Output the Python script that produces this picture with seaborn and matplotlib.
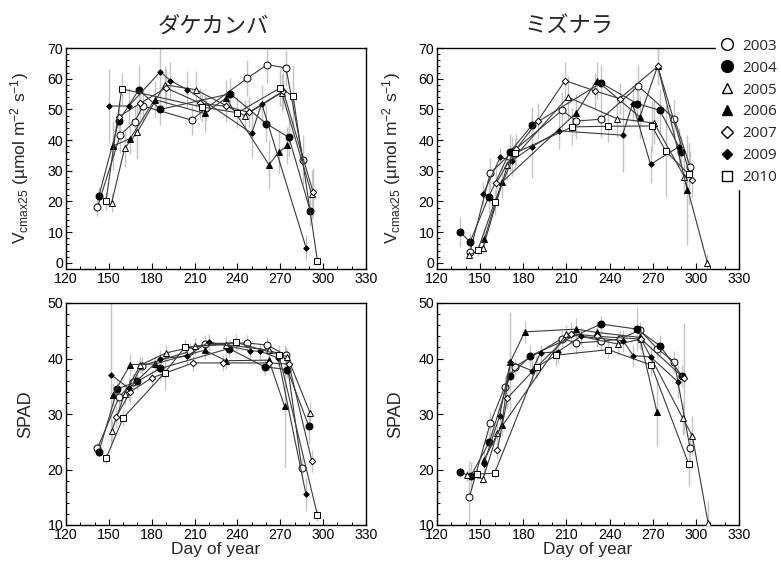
import matplotlib
matplotlib.use("Agg")
import matplotlib.pyplot as plt
from matplotlib.lines import Line2D
from matplotlib.ticker import MultipleLocator
import numpy as np
import pandas as pd
import seaborn as sns

# ---------------------------------------------------------------- data
YEARS = [2003, 2004, 2005, 2006, 2007, 2009, 2010]
SPECIES = ["ダケカンバ", "ミズナラ"]

# ダケカンバ : Vcmax25 (day of year, value, s.d.)
dk_vc_day = {
    2003: [142, 158, 168, 174, 208, 218, 247, 261, 274, 286],
    2004: [143, 157, 171, 186, 235, 260, 276, 291],
    2005: [152, 161, 170, 189, 211, 245, 271, 292],
    2006: [153, 165, 182, 217, 232, 262, 269, 275],
    2007: [157, 172, 190, 214, 232, 248, 272, 293],
    2009: [150, 164, 186, 193, 205, 250, 257, 288],
    2010: [148, 159, 215, 240, 270, 279, 296],
}
dk_vc_val = {
    2003: [18.2, 41.7, 46.0, 51.1, 46.5, 50.3, 60.2, 64.6, 63.5, 33.6],
    2004: [21.7, 46.3, 56.4, 50.0, 55.1, 45.4, 40.9, 16.9],
    2005: [19.6, 37.3, 42.7, 58.0, 56.4, 48.0, 55.5, 22.3],
    2006: [38.1, 40.5, 53.2, 48.7, 53.7, 32.0, 36.0, 38.3],
    2007: [47.6, 52.0, 57.0, 52.0, 51.0, 49.0, 56.0, 23.0],
    2009: [51.1, 51.1, 62.3, 59.4, 56.4, 42.2, 51.9, 5.0],
    2010: [20.1, 56.7, 50.8, 48.9, 57.0, 54.3, 0.7],
}
dk_vc_sd = {
    2003: [3, 6, 5, 5, 5, 4, 6, 6, 6, 8],
    2004: [3, 6, 8, 5, 5, 6, 6, 5],
    2005: [3, 6, 9, 6, 6, 5, 6, 8],
    2006: [8, 5, 6, 6, 6, 8, 7, 6],
    2007: [5, 5, 6, 5, 5, 5, 6, 8],
    2009: [12, 6, 8, 6, 6, 8, 6, 4],
    2010: [3, 5, 5, 5, 6, 10, 1],
}

# ミズナラ : Vcmax25
mz_vc_day = {
    2003: [143, 157, 172, 207, 217, 234, 260, 285, 296],
    2004: [136, 143, 156, 170.5, 186, 234, 259, 275, 290],
    2005: [142, 152, 169, 211, 245, 271, 292, 308],
    2006: [153, 165, 217, 231, 261, 273.5, 294],
    2007: [161, 175, 190, 209, 230, 247, 273.5, 297],
    2009: [152, 164, 172, 186, 205, 249, 256, 268.5, 288],
    2010: [148.5, 160, 174, 214, 239, 269.5, 279, 295],
}
mz_vc_val = {
    2003: [3.6, 29.2, 36.0, 49.7, 46.2, 46.8, 57.6, 47.0, 31.3],
    2004: [10.1, 6.8, 21.6, 36.0, 44.8, 58.6, 51.9, 49.7, 36.2],
    2005: [2.4, 4.9, 31.9, 54.0, 47.0, 45.6, 28.1, 0.0],
    2006: [7.9, 26.2, 48.9, 59.4, 47.5, 64.2, 23.8],
    2007: [25.9, 37.0, 46.2, 59.4, 56.0, 53.5, 64.0, 27.0],
    2009: [22.4, 34.4, 33.3, 37.8, 43.0, 41.6, 51.9, 32.1, 37.8],
    2010: [4.3, 19.7, 35.7, 44.3, 44.5, 44.6, 36.4, 28.9],
}
mz_vc_sd = {
    2003: [2, 5, 5, 6, 6, 6, 7, 6, 5],
    2004: [5, 3, 5, 6, 6, 6, 6, 7, 5],
    2005: [1, 2, 5, 7, 6, 7, 6, 3],
    2006: [3, 5, 6, 6, 7, 6, 18],
    2007: [5, 5, 6, 6, 6, 5, 6, 6],
    2009: [4, 3, 5, 10, 6, 12, 6, 6, 6],
    2010: [2, 4, 5, 6, 5, 8, 15, 10],
}

# ダケカンバ : SPAD
dk_sp_day = {
    2003: [142, 157, 167, 173, 207, 217, 247, 261, 274, 285],
    2004: [143, 156, 170, 186, 234, 259, 275, 290],
    2005: [152, 161, 172, 190, 210, 232, 262, 275, 291],
    2006: [153, 165, 182, 217, 232, 262, 273],
    2007: [155, 165, 180, 209, 230, 262, 276, 292],
    2009: [151.5, 164, 186, 204.5, 220, 249, 256, 268.5, 288],
    2010: [148, 160, 189, 203, 239, 269, 296],
}
dk_sp_val = {
    2003: [23.8, 33.0, 35.8, 38.7, 41.3, 42.7, 42.8, 42.4, 40.6, 20.3],
    2004: [23.2, 34.5, 35.9, 38.2, 41.8, 38.5, 38.0, 27.8],
    2005: [26.9, 33.6, 38.8, 41.0, 42.2, 42.5, 41.5, 40.3, 30.1],
    2006: [33.5, 38.9, 39.0, 41.5, 39.6, 39.7, 31.4],
    2007: [29.4, 34.0, 36.5, 39.2, 39.2, 39.2, 39.0, 21.6],
    2009: [37.1, 34.6, 40.0, 40.4, 43.0, 41.4, 41.3, 40.1, 15.5],
    2010: [22.0, 29.3, 37.4, 42.0, 42.9, 40.7, 11.8],
}
dk_sp_sd = {
    2003: [1, 2, 1.5, 1.5, 1.5, 1.5, 1.5, 1.5, 1.5, 2],
    2004: [1, 1.5, 1.5, 2, 1.5, 1.5, 1.5, 3],
    2005: [2, 2, 1.5, 1.5, 1.5, 1.5, 1.5, 1.5, 2],
    2006: [2, 2, 1.5, 1.5, 1.5, 1.5, 11],
    2007: [2, 2, 1.5, 1.5, 1.5, 1.5, 1.5, 2],
    2009: [13, 2, 1.5, 1.5, 1.5, 1.5, 1.5, 1.5, 3],
    2010: [1, 1.5, 3, 1.5, 1.5, 1.5, 1],
}

# ミズナラ : SPAD
mz_sp_day = {
    2003: [142.5, 157, 167, 174, 207, 217, 234, 247, 261, 273, 285, 296],
    2004: [136, 143.5, 156.5, 170.5, 185, 234, 259, 275, 290.5],
    2005: [141, 152, 162, 210, 246, 262, 291, 297.5, 308.5],
    2006: [153, 165, 171, 181, 217, 231, 261, 273],
    2007: [162, 169, 189, 213, 231, 262, 292],
    2009: [152.5, 163.5, 171, 186, 192, 204, 220, 249.5, 256.5, 268.5, 287.5],
    2010: [148, 160, 189.5, 203, 239, 269, 295],
}
mz_sp_val = {
    2003: [15.0, 28.3, 34.8, 38.5, 43.6, 42.8, 43.1, 43.5, 45.1, 41.8, 39.4, 23.8],
    2004: [19.5, 18.8, 25.0, 36.8, 40.5, 46.2, 45.3, 42.3, 36.8],
    2005: [19.0, 18.3, 26.6, 44.5, 42.6, 43.5, 29.2, 26.1, 10.4],
    2006: [21.8, 28.0, 39.4, 44.8, 45.3, 44.7, 43.8, 30.3],
    2007: [23.5, 32.9, 38.4, 44.5, 44.0, 43.5, 36.4],
    2009: [21.0, 29.6, 39.4, 37.8, 41.0, 41.2, 44.0, 43.2, 40.5, 40.3, 35.8],
    2010: [19.2, 19.3, 38.5, 40.6, 41.6, 38.8, 21.0],
}
mz_sp_sd = {
    2003: [6.5, 2, 2, 1.5, 1.5, 2, 1.5, 1.5, 1.5, 1.5, 2, 3],
    2004: [1, 2.5, 1.5, 2, 2, 1.5, 4, 2, 2],
    2005: [1, 1, 2, 1.5, 2, 1.5, 3, 3.5, 4],
    2006: [1.5, 2, 9, 2, 2, 2, 2, 6],
    2007: [1.5, 2, 2, 2, 2, 2, 10],
    2009: [1.5, 1.5, 2, 2, 1.5, 2, 1.5, 2, 2, 2, 3],
    2010: [1, 1, 2, 2, 1.5, 2, 4],
}

# ---------------------------------------------------------------- style
sns.set_style("ticks")
plt.rcParams["font.family"] = ["Liberation Sans", "DejaVu Sans"]
plt.rcParams["mathtext.fontset"] = "custom"
plt.rcParams["mathtext.rm"] = "Liberation Sans"
plt.rcParams["mathtext.it"] = "Liberation Sans:italic"

MARKERS = {
    2003: dict(marker="o", mfc="white", ms=5.0),
    2004: dict(marker="o", mfc="black", ms=5.0),
    2005: dict(marker="^", mfc="white", ms=4.6),
    2006: dict(marker="^", mfc="black", ms=4.2),
    2007: dict(marker="D", mfc="white", ms=3.3),
    2009: dict(marker="D", mfc="black", ms=2.8),
    2010: dict(marker="s", mfc="white", ms=4.6),
}


def long_table(days, vals, sds):
    rows = []
    for yr in YEARS:
        for d, v, s in zip(days[yr], vals[yr], sds[yr]):
            rows.append(dict(year=yr, day=d, value=v, sd=s))
    return pd.DataFrame(rows)


def draw_panel(ax, df):
    ax.vlines(df["day"], df["value"] - df["sd"], df["value"] + df["sd"],
              color="#c4c4c4", lw=1.0, zorder=1)
    for yr in YEARS:
        sub = df[df["year"] == yr]
        st = MARKERS[yr]
        sns.lineplot(data=sub, x="day", y="value", ax=ax, sort=False,
                     estimator=None, color="#3a3a3a", lw=0.8,
                     marker=st["marker"], markersize=st["ms"],
                     markerfacecolor=st["mfc"], markeredgecolor="black",
                     markeredgewidth=0.7, zorder=3, legend=False)
    ax.set_xlim(120, 330)
    ax.xaxis.set_major_locator(MultipleLocator(30))
    ax.xaxis.set_minor_locator(MultipleLocator(10))
    ax.tick_params(which="both", direction="in", top=False, right=False,
                   labelsize=10.2, pad=2, colors="black")
    ax.tick_params(which="major", length=4, width=0.8)
    ax.tick_params(which="minor", length=2.5, width=0.7)
    for sp in ax.spines.values():
        sp.set_color("black")
        sp.set_linewidth(1.0)
    ax.set_xlabel("")
    ax.set_ylabel("")


fig = plt.figure(figsize=(7.81, 5.62), dpi=100)
W, H = 781, 562


def px_axes(x0, y0, x1, y1):
    return fig.add_axes([x0 / W, 1 - y1 / H, (x1 - x0) / W, (y1 - y0) / H])


ax_tl = px_axes(66, 48, 366, 269)
ax_tr = px_axes(437, 48, 739, 269)
ax_bl = px_axes(66, 303, 366, 525)
ax_br = px_axes(437, 303, 739, 525)

draw_panel(ax_tl, long_table(dk_vc_day, dk_vc_val, dk_vc_sd))
draw_panel(ax_tr, long_table(mz_vc_day, mz_vc_val, mz_vc_sd))
draw_panel(ax_bl, long_table(dk_sp_day, dk_sp_val, dk_sp_sd))
draw_panel(ax_br, long_table(mz_sp_day, mz_sp_val, mz_sp_sd))

vc_label = r"V$_{\mathrm{cmax25}}$ (µmol m$^{\mathrm{-2}}$ s$^{\mathrm{-1}}$)"
for ax in (ax_tl, ax_tr):
    ax.set_ylim(-2, 70)
    ax.yaxis.set_major_locator(MultipleLocator(10))
    ax.yaxis.set_minor_locator(MultipleLocator(2))
    ax.set_ylabel(vc_label, fontsize=12.5)
for ax in (ax_bl, ax_br):
    ax.set_ylim(10, 50)
    ax.yaxis.set_major_locator(MultipleLocator(10))
    ax.yaxis.set_minor_locator(MultipleLocator(2))
    ax.set_ylabel("SPAD", fontsize=13)
    ax.set_xlabel("Day of year", fontsize=12.5, labelpad=0)

ax_tl.yaxis.set_label_coords(-0.115, 0.5)
ax_tr.yaxis.set_label_coords(-0.112, 0.5)
ax_bl.yaxis.set_label_coords(-0.105, 0.5)
ax_br.yaxis.set_label_coords(-0.11, 0.5)

cjk = ["Noto Sans CJK JP", "DejaVu Sans"]
fig.text(213 / W, 1 - 26 / H, SPECIES[0], family=cjk, fontsize=16,
         ha="center", va="center")
fig.text(569 / W, 1 - 26 / H, SPECIES[1], family=cjk, fontsize=16,
         ha="center", va="center")

handles = [Line2D([], [], ls="none", marker=MARKERS[y]["marker"],
                  mfc=MARKERS[y]["mfc"], mec="black", mew=1.0,
                  ms=MARKERS[y]["ms"] * 1.7)
           for y in YEARS]
leg = fig.legend(handles, [str(y) for y in YEARS], loc="upper left",
                 bbox_to_anchor=(716 / W, 1 - 35 / H), frameon=True,
                 prop={"family": "Open Sans", "size": 11},
                 handlelength=0.9, handletextpad=0.6, labelspacing=0.45,
                 borderpad=0.25, borderaxespad=0)
leg.get_frame().set_facecolor("white")
leg.get_frame().set_edgecolor("white")
leg.get_frame().set_alpha(1.0)
leg.get_frame().set_boxstyle("square", pad=0.0)

fig.savefig("out.png", dpi=100)
